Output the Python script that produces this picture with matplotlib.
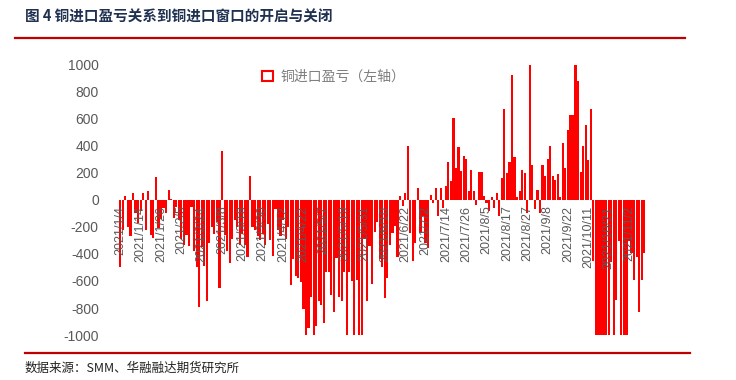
import matplotlib
matplotlib.use('Agg')
import matplotlib.pyplot as plt
from matplotlib.patches import Patch
from matplotlib.lines import Line2D

plt.rcParams['font.family'] = ['Liberation Sans', 'Noto Sans CJK SC', 'DejaVu Sans']

# 铜进口盈亏（元/吨），按交易日
profit = [
    -500, -220, 30, -200, -265, 55, -100, -170,
    -80, 55, -220, 70, -260, -280, 170, -210,
    -140, -60, -100, 75, 5, -130, -50, -150,
    -290, -330, -260, -340, -50, -380, -500, -790,
    -350, -490, -750, -320, -200, -250, -160, -655,
    360, -260, -380, -470, -290, -150, -200, -330,
    -250, -330, -420, 180, -200, -220, -270, -300,
    -250, -330, -180, -300, -415, -70, -220, -270,
    -150, -290, -200, -630, -440, -560, -580, -610,
    -810, -1000, -950, -720, -1000, -930, -745, -780,
    -910, -530, -530, -700, -830, -430, -720, -745,
    -530, -1000, -530, -600, -1000, -590, -1000, -1000,
    -290, -750, -340, -620, -240, -160, -440, -500,
    -725, -580, -330, -245, -195, -420, 30, -45,
    50, 400, -245, -455, -320, 90, -245, -120,
    -320, -355, 40, -20, 90, -120, 90, -60,
    100, 285, 140, 610, 235, 395, 215, 325,
    300, 65, 225, 65, -35, 210, 205, 30,
    -20, -85, 25, -60, 50, -120, 165, 675,
    200, 285, 925, 320, 25, 65, 225, 200,
    -95, 1000, 260, -70, 75, -95, 260, 175,
    305, 400, 180, 145, 195, 25, 420, 240,
    515, 630, 630, 1000, 880, 210, 400, 555,
    295, 675, -450, -1000, -1000, -1000, -1000, -1000,
    -1000, -460, -1000, -740, -305, -1000, -1000, -1000,
    -305, -390, -590, -420, -830, -590, -390,
]
tick_labels = ['2021/1/4', '2021/1/14', '2021/1/26', '2021/2/5', '2021/2/24', '2021/3/8',
               '2021/3/18', '2021/3/30', '2021/4/12', '2021/4/22', '2021/5/7', '2021/5/19',
               '2021/5/31', '2021/6/10', '2021/6/22', '2021/7/2', '2021/7/14', '2021/7/26',
               '2021/8/5', '2021/8/17', '2021/8/27', '2021/9/8', '2021/9/22', '2021/10/11',
               '2021/10/21', '2021/11/2']
tick_step = 8
y_ticks = [-1000, -800, -600, -400, -200, 0, 200, 400, 600, 800, 1000]

fig = plt.figure(figsize=(7.36, 3.8), dpi=100)
ax = fig.add_axes([0.1607, 0.1042, 0.7174, 0.739])

# 横轴标签贴着零线（先定位置，再设刻度）
ax.spines['bottom'].set_position(('data', 0))
for s in ax.spines.values():
    s.set_visible(False)

x = list(range(len(profit)))
ax.bar(x, profit, width=0.85, color='#ff0000', linewidth=0)

ax.set_xlim(-0.8, len(profit) - 0.2)
ax.set_ylim(-1040, 1040)
ax.set_yticks(y_ticks)
ax.set_yticklabels([str(v) for v in y_ticks])
ax.set_xticks(x[::tick_step])
ax.set_xticklabels(tick_labels, rotation=90, va='top', ha='center')
ax.tick_params(axis='y', length=0, pad=14, labelsize=10, labelcolor='#595959')
ax.tick_params(axis='x', length=0, pad=4, labelsize=9, labelcolor='#595959')
ax.set_axisbelow(False)

handle = Patch(facecolor='white', edgecolor='#ff0000', linewidth=1.5)
fig.legend([handle], ['铜进口盈亏（左轴）'], loc='center left',
           bbox_to_anchor=(262 / 736, 1 - 77 / 380), frameon=False,
           handlelength=0.8, handleheight=0.8, handletextpad=0.5,
           borderpad=0, borderaxespad=0,
           prop={'family': 'Noto Sans CJK SC', 'size': 10}, labelcolor='#7f7f7f')

fig.text(25 / 736, 1 - 17 / 380, '图 4 铜进口盈亏关系到铜进口窗口的开启与关闭',
         fontsize=10.5, fontweight='bold', color='#1f3050', va='center', ha='left',
         family=['Noto Sans CJK SC', 'DejaVu Sans'])
fig.add_artist(Line2D([15 / 736, 685 / 736], [1 - 38 / 380, 1 - 38 / 380],
                      transform=fig.transFigure, color='#c00000', linewidth=1.6))
fig.add_artist(Line2D([25 / 736, 690 / 736], [1 - 353 / 380, 1 - 353 / 380],
                      transform=fig.transFigure, color='#c00000', linewidth=1.6))
fig.text(25 / 736, 1 - 368 / 380, '数据来源：SMM、华融融达期货研究所',
         fontsize=9, style='italic', color='#222222', va='center', ha='left',
         family=['Noto Sans CJK SC', 'DejaVu Sans'])

fig.savefig('out.png', dpi=100)
